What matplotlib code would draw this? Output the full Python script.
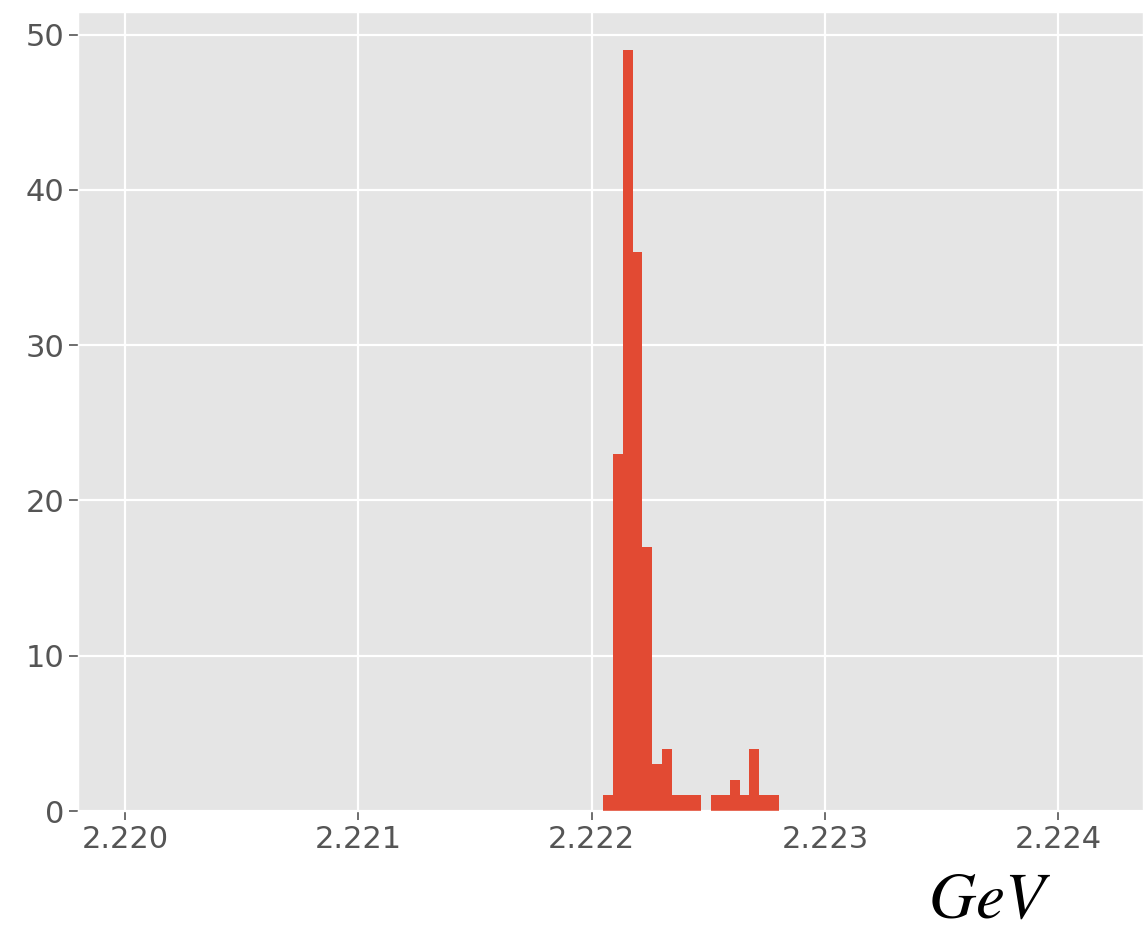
import numpy as np
import matplotlib
matplotlib.use('Agg')
from matplotlib import pyplot as plt

# histogram
bin_start = 2.222051
bin_width = 0.0000417
counts = [1, 23, 49, 36, 17, 3, 4, 1, 1, 1, 0, 1, 1, 2, 1, 4, 1, 1]
xticks = [2.220, 2.221, 2.222, 2.223, 2.224]
yticks = [0, 10, 20, 30, 40, 50]

edges = bin_start + bin_width * np.arange(len(counts) + 1)
centers = (edges[:-1] + edges[1:]) / 2

plt.style.use('ggplot')
plt.rcParams['mathtext.fontset'] = 'stix'

fig = plt.figure(figsize=(11.43, 9.35), dpi=100)
ax = fig.add_axes([0.0682, 0.1326, 0.9318, 0.8544])

ax.hist(centers, bins=edges, weights=counts, color='#E24A33')

ax.set_xlim(2.219799, 2.224363)
ax.set_ylim(0, 51.45)
ax.set_xticks(xticks)
ax.set_xticklabels(['%.3f' % t for t in xticks])
ax.set_yticks(yticks)
ax.tick_params(labelsize=22, colors='#555555', length=6.5, width=1.2)
ax.grid(color='white', linewidth=1.6)

# unit label
fig.text(0.866, 0.004, '$GeV$', fontsize=47, ha='center', va='bottom')

fig.savefig('out.png', dpi=100)
